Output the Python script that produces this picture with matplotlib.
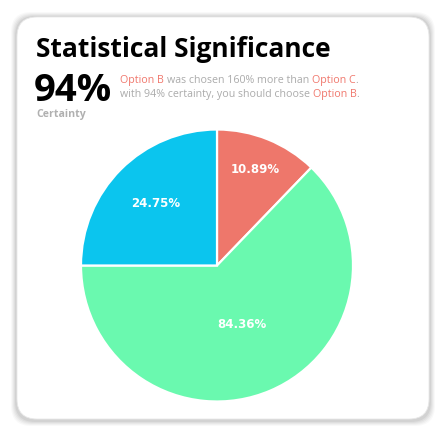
import matplotlib
matplotlib.use("Agg")
import matplotlib.pyplot as plt
from matplotlib.patches import FancyBboxPatch
import numpy as np

# ---- data ----
slice_names = ["Option A", "Option B", "Option C"]
slice_shares = [12.2, 62.8, 25.0]          # visual share of the circle
slice_labels = ["10.89%", "84.36%", "24.75%"]
slice_colors = ["#EE776B", "#6AF9AF", "#0BC5EE"]
label_radius = [0.76, 0.47, 0.64]

title = "Statistical Significance"
certainty = "94%"
certainty_caption = "Certainty"
line1 = [("Option B", "#F0776C"), (" was chosen 160% more than ", "#ABABAB"), ("Option C", "#F0776C"), (".", "#ABABAB")]
line2 = [("with 94% certainty, you should choose ", "#ABABAB"), ("Option B", "#F0776C"), (".", "#ABABAB")]

W, H = 446, 437
fig = plt.figure(figsize=(W / 100, H / 100), dpi=100)
fig.patch.set_facecolor("white")

bg = fig.add_axes([0, 0, 1, 1])
bg.set_xlim(0, W)
bg.set_ylim(H, 0)
bg.axis("off")

# card shadow + card
for i, a in enumerate([0.025, 0.03, 0.035, 0.04, 0.05]):
    g = 6 - i
    bg.add_patch(FancyBboxPatch((17 - g + 20, 17 - g + 1 + 20), 412 + 2 * g - 40, 402 + 2 * g - 40,
                                boxstyle="round,pad=20", fc="black", ec="none", alpha=a))
bg.add_patch(FancyBboxPatch((17 + 20, 17 + 20), 412 - 40, 402 - 40,
                            boxstyle="round,pad=20", fc="white", ec="#E8E8E8", lw=0.6))

FONT = "Open Sans"
bg.text(36, 57, title, fontsize=19, fontweight="bold", family=FONT, color="black", va="baseline", ha="left")
bg.text(34, 101, certainty, fontsize=27.5, fontweight="bold", family=FONT, color="black", va="baseline", ha="left")
bg.text(36, 117, certainty_caption, fontsize=7.6, fontweight="bold", family=FONT, color="#B0B0B0", va="baseline", ha="left")

fig.canvas.draw()
renderer = fig.canvas.get_renderer()

def width_of(s, size):
    t = bg.text(0, 0, s, fontsize=size, family=FONT)
    w = t.get_window_extent(renderer=renderer).width
    t.remove()
    return w

def rich(x, y, parts, size):
    space = width_of("a a", size) - width_of("aa", size)
    cur = x
    for s, c in parts:
        lead = len(s) - len(s.lstrip(" "))
        trail = len(s) - len(s.rstrip(" "))
        core = s.strip(" ")
        cur += lead * space
        t = bg.text(cur, y, core, fontsize=size, family=FONT, color=c, va="baseline", ha="left")
        cur += t.get_window_extent(renderer=renderer).width + trail * space
    return cur

rich(120, 83, line1, 7.7)
rich(120, 97, line2, 7.7)

# pie
cx, cy, r = 217, 265.5, 136
ax = fig.add_axes([(cx - r) / W, (H - cy - r) / H, 2 * r / W, 2 * r / H])
wedges, _ = ax.pie(slice_shares, colors=slice_colors, startangle=90, counterclock=False,
                   radius=1.0, wedgeprops=dict(edgecolor="white", linewidth=1.6))
for w, lab, rr in zip(wedges, slice_labels, label_radius):
    mid = np.deg2rad((w.theta1 + w.theta2) / 2)
    ax.text(rr * np.cos(mid), rr * np.sin(mid), lab, ha="center", va="center",
            color="white", fontsize=8.5, fontweight="bold", family="DejaVu Sans")
ax.set_xlim(-1, 1)
ax.set_ylim(-1, 1)
ax.set_aspect("equal")
ax.axis("off")

fig.savefig("out.png", dpi=100, facecolor="white")
